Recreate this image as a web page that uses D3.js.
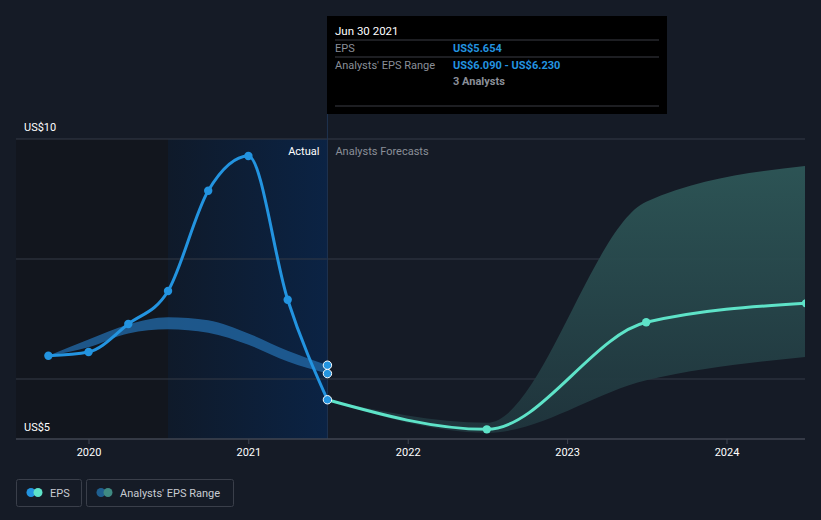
<!DOCTYPE html>
<html><head><meta charset="utf-8">
<script src="https://cdn.jsdelivr.net/npm/d3@7"></script>
<style>
html,body{margin:0;padding:0;background:#151b26;}
svg{display:block;font-family:Roboto,"Open Sans",sans-serif;}
</style></head>
<body>
<svg id="chart" width="821" height="520"></svg>
<script>
// ---- data ----
const actualDates = ["2019-09-30","2019-12-31","2020-03-31","2020-06-30","2020-09-30","2020-12-31","2021-03-31","2021-06-30"];
const actualEPS = [6.388, 6.45, 6.917, 7.467, 9.138, 9.717, 7.322, 5.654];
const pastRangeLow = [6.388, 6.53, 6.76, 6.83, 6.77, 6.57, 6.29, 6.09];
const pastRangeHigh = [6.388, 6.66, 6.91, 7.03, 6.98, 6.76, 6.47, 6.23];
const forecastDates = ["2021-06-30","2022-06-30","2023-06-30","2024-06-30"];
const forecastEPS = [5.654, 5.161, 6.945, 7.262];
const forecastLow = [5.654, 5.105, 5.98, 6.37];
const forecastHigh = [5.654, 5.27, 8.955, 9.55];
const yTickValues = [5, 6, 8, 10];
const yLabelValues = [10, 5];
const xTickYears = [2020, 2021, 2022, 2023, 2024];

// ---- setup ----
const svg = d3.select("#chart");
const parse = d3.timeParse("%Y-%m-%d");
const x = d3.scaleTime()
  .domain([new Date(2020,0,1), new Date(2024,0,1)])
  .range([89, 727]);
const y = d3.scaleLinear().domain([5, 10]).range([439, 139]);
const left = 16, right = 805;
const nowDate = parse("2021-06-30");
const pastStart = parse("2020-06-30");

const defs = svg.append("defs");
defs.append("clipPath").attr("id","plotClip").append("rect")
  .attr("x",left).attr("y",0).attr("width",right-left).attr("height",y(5));
const g1 = defs.append("linearGradient").attr("id","actualGrad").attr("x1","0").attr("x2","1").attr("y1","0").attr("y2","0");
g1.append("stop").attr("offset","0").attr("stop-color","#0f1a2a");
g1.append("stop").attr("offset","1").attr("stop-color","#0b2344");
const g2 = defs.append("linearGradient").attr("id","fcGrad").attr("x1","0").attr("x2","0").attr("gradientUnits","userSpaceOnUse")
  .attr("y1", y(10)).attr("y2", y(5));
g2.append("stop").attr("offset","0").attr("stop-color","#2f5a5a");
g2.append("stop").attr("offset","1").attr("stop-color","#1f343c");

// background regions
svg.append("rect").attr("x",left).attr("y",y(10)).attr("width",x(pastStart)-left).attr("height",y(5)-y(10)).attr("fill","#12161e");
svg.append("rect").attr("x",x(pastStart)).attr("y",y(10)).attr("width",x(nowDate)-x(pastStart)).attr("height",y(5)-y(10)).attr("fill","url(#actualGrad)");

// gridlines
svg.append("g").selectAll("line").data(yTickValues.filter(v=>v!==5)).join("line")
  .attr("x1",left).attr("x2",right).attr("y1",d=>y(d)).attr("y2",d=>y(d))
  .attr("stroke","#353b47").attr("stroke-width",1);

// now line
svg.append("line").attr("x1",x(nowDate)).attr("x2",x(nowDate)).attr("y1",y(10)-25).attr("y2",y(5))
  .attr("stroke","#1f3350").attr("stroke-width",1);

// y labels
svg.append("g").selectAll("text").data(yLabelValues).join("text")
  .attr("x",24).attr("y",d=>y(d)-8).attr("fill","#ffffff").attr("font-size",11)
  .text(d=>"US$"+d);

// region labels
svg.append("text").attr("x",x(nowDate)-8).attr("y",155).attr("text-anchor","end").attr("fill","#ffffff").attr("font-size",11).text("Actual");
svg.append("text").attr("x",x(nowDate)+8).attr("y",155).attr("fill","#8a8f98").attr("font-size",11).text("Analysts Forecasts");

const plot = svg.append("g").attr("clip-path","url(#plotClip)");

// past range band
const pastBand = actualDates.map((d,i)=>({d:parse(d),lo:pastRangeLow[i],hi:pastRangeHigh[i]}));
plot.append("path").datum(pastBand)
  .attr("d", d3.area().curve(d3.curveMonotoneX).x(d=>x(d.d)).y0(d=>y(d.lo)).y1(d=>y(d.hi)))
  .attr("fill","#2266a3").attr("fill-opacity",0.8);

// forecast band
const fcBand = forecastDates.map((d,i)=>({d:parse(d),lo:forecastLow[i],hi:forecastHigh[i]}));
plot.append("path").datum(fcBand)
  .attr("d", d3.area().curve(d3.curveMonotoneX).x(d=>x(d.d)).y0(d=>y(d.lo)).y1(d=>y(d.hi)))
  .attr("fill","url(#fcGrad)").attr("fill-opacity",0.95);

// actual EPS line
const act = actualDates.map((d,i)=>({d:parse(d),v:actualEPS[i]}));
plot.append("path").datum(act)
  .attr("d", d3.line().curve(d3.curveMonotoneX).x(d=>x(d.d)).y(d=>y(d.v)))
  .attr("fill","none").attr("stroke","#2394e0").attr("stroke-width",3);

// forecast EPS line
const fc = forecastDates.map((d,i)=>({d:parse(d),v:forecastEPS[i]}));
plot.append("path").datum(fc)
  .attr("d", d3.line().curve(d3.curveMonotoneX).x(d=>x(d.d)).y(d=>y(d.v)))
  .attr("fill","none").attr("stroke","#5ee3c8").attr("stroke-width",3);

// points
plot.append("g").selectAll("circle").data(act.slice(0,-1)).join("circle")
  .attr("cx",d=>x(d.d)).attr("cy",d=>y(d.v)).attr("r",4.2).attr("fill","#2394e0");
plot.append("g").selectAll("circle").data(fc.slice(1)).join("circle")
  .attr("cx",d=>x(d.d)).attr("cy",d=>y(d.v)).attr("r",4.2).attr("fill","#5ee3c8");
const last = pastBand[pastBand.length-1];
svg.append("g").selectAll("circle").data([last.hi,last.lo,actualEPS[actualEPS.length-1]]).join("circle")
  .attr("cx",x(nowDate)).attr("cy",d=>y(d)).attr("r",4.2).attr("fill","#2394e0").attr("stroke","#ffffff").attr("stroke-width",1);

// x axis
const xa = svg.append("g");
xa.append("line").attr("x1",left).attr("x2",right).attr("y1",y(5)).attr("y2",y(5)).attr("stroke","#404652").attr("stroke-width",1.5);
const xt = xa.selectAll("g.t").data(xTickYears).join("g").attr("class","t")
  .attr("transform",d=>`translate(${x(new Date(d,0,1))},0)`);
xt.append("line").attr("y1",y(5)).attr("y2",y(5)+5).attr("stroke","#404652");
xt.append("text").attr("y",y(5)+17).attr("text-anchor","middle").attr("fill","#ffffff").attr("font-size",11).text(d=>d);

// tooltip
const tt = svg.append("g").attr("transform","translate(327,16)");
tt.append("rect").attr("width",340).attr("height",98).attr("fill","#000000");
tt.append("text").attr("x",8).attr("y",19).attr("fill","#ffffff").attr("font-size",11.5).text("Jun 30 2021");
[24,41,90].forEach(yy=>tt.append("line").attr("x1",8).attr("x2",332).attr("y1",yy).attr("y2",yy).attr("stroke","#3a3d44"));
tt.append("text").attr("x",8).attr("y",36).attr("fill","#8a8f98").attr("font-size",11).text("EPS");
tt.append("text").attr("x",126).attr("y",36).attr("fill","#2394e0").attr("font-size",11).attr("font-weight","bold").text("US$5.654");
tt.append("text").attr("x",8).attr("y",53).attr("fill","#8a8f98").attr("font-size",11).text("Analysts' EPS Range");
tt.append("text").attr("x",126).attr("y",53).attr("fill","#2394e0").attr("font-size",11).attr("font-weight","bold").text("US$6.090 - US$6.230");
tt.append("text").attr("x",126).attr("y",69).attr("fill","#8a8f98").attr("font-size",11).attr("font-weight","bold").text("3 Analysts");

// legend
const lg = svg.append("g");
lg.append("rect").attr("x",16.5).attr("y",479.5).attr("width",65).attr("height",27).attr("rx",2).attr("fill","none").attr("stroke","#3a3f4a");
lg.append("circle").attr("cx",31).attr("cy",492.5).attr("r",4.5).attr("fill","#2394e0");
lg.append("circle").attr("cx",38).attr("cy",492.5).attr("r",4.5).attr("fill","#5ee3c8");
lg.append("text").attr("x",50).attr("y",496.5).attr("fill","#c8ccd2").attr("font-size",11).text("EPS");
lg.append("rect").attr("x",86.5).attr("y",479.5).attr("width",147).attr("height",27).attr("rx",2).attr("fill","none").attr("stroke","#3a3f4a");
lg.append("circle").attr("cx",101).attr("cy",492.5).attr("r",4.5).attr("fill","#1f5f8f");
lg.append("circle").attr("cx",108).attr("cy",492.5).attr("r",4.5).attr("fill","#3f8a82");
lg.append("text").attr("x",120).attr("y",496.5).attr("fill","#c8ccd2").attr("font-size",11).text("Analysts' EPS Range");
</script>
</body></html>
